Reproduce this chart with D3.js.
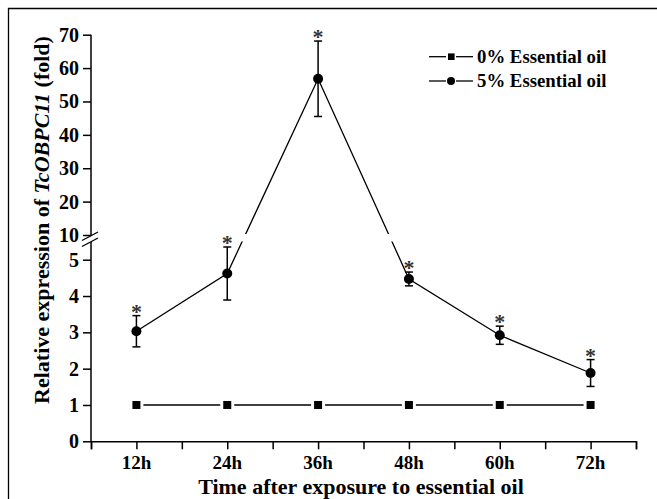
<!DOCTYPE html>
<meta charset="utf-8">
<style>
body { margin: 0; background: #fff; }
text { font-family: "Liberation Serif", "Times New Roman", serif; font-weight: bold; }
</style>
<svg width="657" height="499"></svg>
<script src="https://d3js.org/d3.v7.min.js"></script>
<script>

var hours = [12, 24, 36, 48, 60, 72];
var hourLabels = ["12h", "24h", "36h", "48h", "60h", "72h"];
var control = [1, 1, 1, 1, 1, 1];
var treated = [3.03, 4.62, 56.8, 4.47, 2.92, 1.88];
var treatedErr = [0.43, 0.73, 11.3, 0.19, 0.25, 0.37];
var lowTicks = [0, 1, 2, 3, 4, 5];
var highTicks = [10, 20, 30, 40, 50, 60, 70];
var seriesNames = ["0% Essential oil", "5% Essential oil"];

var svg = d3.select("svg");

svg.append("rect").attr("width", 657).attr("height", 499).attr("fill", "#fff");

// outer frame (runs off right and bottom)
svg.append("path")
   .attr("d", "M8.5,499V8.5H657")
   .attr("fill", "none").attr("stroke", "#000").attr("stroke-width", 1.3);

var x = d3.scaleLinear().domain([6, 78]).range([91, 636]);
var yLow = d3.scaleLinear().domain([0, 5]).range([441.3, 259.7]);
var yHigh = d3.scaleLinear().domain([10, 70]).range([235, 34.7]);
function yMap(v) { return v <= 5.5 ? yLow(v) : yHigh(v); }

// x axis
var xAxis = svg.append("g")
   .attr("transform", "translate(0,441.3)")
   .call(d3.axisBottom(x).tickValues(d3.range(6, 79, 6)).tickSizeOuter(0).tickSize(8).tickFormat(""));
xAxis.select(".domain").attr("stroke-width", 1.5);
xAxis.selectAll(".tick line").attr("stroke-width", 1.5);

svg.append("g").selectAll("text")
   .data(hours)
   .enter().append("text")
   .attr("x", function(d) { return x(d); })
   .attr("y", 469)
   .attr("text-anchor", "middle")
   .attr("font-size", "19px")
   .text(function(d, i) { return hourLabels[i]; });

// y axis, lower part
var yAxisLow = svg.append("g")
   .attr("transform", "translate(91,0)")
   .call(d3.axisLeft(yLow).tickValues(lowTicks).tickFormat(d3.format("d")).tickSize(8).tickSizeOuter(0).tickPadding(4));
yAxisLow.select(".domain").remove();
yAxisLow.selectAll(".tick line").attr("stroke-width", 1.5);
yAxisLow.selectAll(".tick text").attr("font-size", "20px").attr("font-family", null);

// y axis, upper part
var yAxisHigh = svg.append("g")
   .attr("transform", "translate(91,0)")
   .call(d3.axisLeft(yHigh).tickValues(highTicks).tickFormat(d3.format("d")).tickSize(8).tickSizeOuter(0).tickPadding(4));
yAxisHigh.select(".domain").remove();
yAxisHigh.selectAll(".tick line").attr("stroke-width", 1.5);
yAxisHigh.selectAll(".tick text").attr("font-size", "20px").attr("font-family", null);

svg.append("line").attr("x1", 91).attr("x2", 91).attr("y1", yHigh(70)).attr("y2", 236)
   .attr("stroke", "#000").attr("stroke-width", 1.5);
svg.append("line").attr("x1", 91).attr("x2", 91).attr("y1", 242).attr("y2", yLow(0))
   .attr("stroke", "#000").attr("stroke-width", 1.5);

// break marks
[0, 6].forEach(function(off) {
  svg.append("line")
     .attr("x1", 82).attr("y1", 240.5 + off).attr("x2", 98).attr("y2", 232 + off)
     .attr("stroke", "#000").attr("stroke-width", 1.4);
});

// clip to leave a gap where the axis is broken
var defs = svg.append("defs");
var clip = defs.append("clipPath").attr("id", "brk");
clip.append("rect").attr("x", 0).attr("y", 0).attr("width", 657).attr("height", 234);
clip.append("rect").attr("x", 0).attr("y", 241.5).attr("width", 657).attr("height", 260);

var plot = svg.append("g");

// 0% series: line with gaps at markers
var ctrlPts = hours.map(function(h, i) { return [x(h), yMap(control[i])]; });
for (var i = 0; i < ctrlPts.length - 1; i++) {
  plot.append("line")
      .attr("x1", ctrlPts[i][0] + 7).attr("x2", ctrlPts[i + 1][0] - 7)
      .attr("y1", ctrlPts[i][1]).attr("y2", ctrlPts[i + 1][1])
      .attr("stroke", "#000").attr("stroke-width", 1.3);
}
plot.selectAll(".sq")
    .data(ctrlPts)
    .enter().append("rect")
    .attr("x", function(d) { return d[0] - 4; })
    .attr("y", function(d) { return d[1] - 4; })
    .attr("width", 8).attr("height", 8)
    .attr("fill", "#000");

// 5% series
var line = d3.line()
   .x(function(d, i) { return x(hours[i]); })
   .y(function(d) { return yMap(d); });

plot.append("path")
    .datum(treated)
    .attr("d", line)
    .attr("fill", "none")
    .attr("stroke", "#000")
    .attr("stroke-width", 1.3)
    .attr("clip-path", "url(#brk)");

var err = plot.selectAll(".err")
    .data(treated)
    .enter().append("g");
err.append("line")
   .attr("x1", function(d, i) { return x(hours[i]); })
   .attr("x2", function(d, i) { return x(hours[i]); })
   .attr("y1", function(d, i) { return yMap(d - treatedErr[i]); })
   .attr("y2", function(d, i) { return yMap(d + treatedErr[i]); })
   .attr("stroke", "#000").attr("stroke-width", 1.5);
[-1, 1].forEach(function(sgn) {
  err.append("line")
     .attr("x1", function(d, i) { return x(hours[i]) - 4; })
     .attr("x2", function(d, i) { return x(hours[i]) + 4; })
     .attr("y1", function(d, i) { return yMap(d + sgn * treatedErr[i]); })
     .attr("y2", function(d, i) { return yMap(d + sgn * treatedErr[i]); })
     .attr("stroke", "#000").attr("stroke-width", 1.5);
});
err.append("circle")
   .attr("cx", function(d, i) { return x(hours[i]); })
   .attr("cy", function(d) { return yMap(d); })
   .attr("r", 5)
   .attr("fill", "#000");
err.append("text")
   .attr("x", function(d, i) { return x(hours[i]); })
   .attr("y", function(d, i) { return yMap(d + treatedErr[i]) + 3; })
   .attr("text-anchor", "middle")
   .attr("font-size", "22px")
   .attr("font-weight", "normal")
   .attr("fill", "#333")
   .text("*");

// legend
var legend = svg.append("g");
seriesNames.forEach(function(name, i) {
  var ly = 56.7 + i * 24.3;
  legend.append("line").attr("x1", 429).attr("x2", 446).attr("y1", ly).attr("y2", ly)
        .attr("stroke", "#000").attr("stroke-width", 1.3);
  legend.append("line").attr("x1", 456).attr("x2", 473).attr("y1", ly).attr("y2", ly)
        .attr("stroke", "#000").attr("stroke-width", 1.3);
  if (i == 0) {
    legend.append("rect").attr("x", 448).attr("y", ly - 3.3).attr("width", 6.6).attr("height", 6.6).attr("fill", "#000");
  } else {
    legend.append("circle").attr("cx", 451).attr("cy", ly).attr("r", 4).attr("fill", "#000");
  }
  legend.append("text")
        .attr("x", 477).attr("y", ly + 6)
        .attr("font-size", "18.8px")
        .text(name);
});

// axis titles
svg.append("text")
   .attr("x", 361).attr("y", 494)
   .attr("text-anchor", "middle")
   .attr("font-size", "22px")
   .text("Time after exposure to essential oil");

var yTitle = svg.append("text")
   .attr("transform", "translate(49,220) rotate(-90)")
   .attr("text-anchor", "middle")
   .attr("font-size", "22px");
yTitle.append("tspan").text("Relative expression of ");
yTitle.append("tspan").attr("font-style", "italic").text("TcOBPC11");
yTitle.append("tspan").text(" (fold)");

</script>
